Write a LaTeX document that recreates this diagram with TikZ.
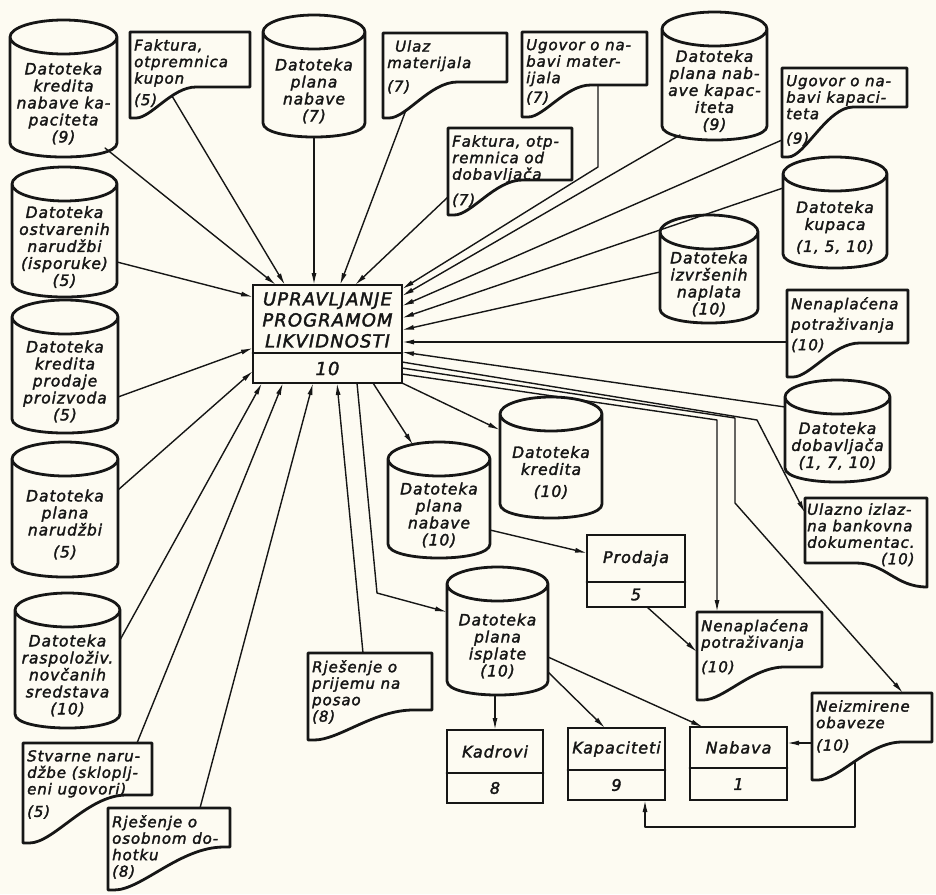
\documentclass[tikz,border=0pt]{standalone}
\usepackage{fontspec}
\setmainfont[LetterSpace=6,FakeBold=2,ItalicFeatures={FakeBold=2}]{DejaVu Sans}
\usetikzlibrary{calc,arrows.meta}
\definecolor{paper}{RGB}{253,251,242}
\definecolor{ink}{RGB}{22,22,22}
\newcommand\cylfont{\itshape\fontsize{15.5}{17}\selectfont}
\newcommand\docfont{\itshape\fontsize{15}{16.5}\selectfont}
\newcommand\procfont{\itshape\fontsize{16}{18}\selectfont}
\newcommand\ctrfont{\itshape\fontsize{18}{21}\selectfont}

\newcommand\CylNode[6]{%
  \node[shapebox, minimum width={(#4)-(#2)}, minimum height={(#5)-(#3)}] (#1) at ({((#2)+(#4))/2},{((#3)+(#5))/2}) {};
  \draw[shp] let \p1=(#1.north west), \p2=(#1.south east) in
    ({(\x1+\x2)/2},{\y1-17}) ellipse [x radius={(\x2-\x1)/2}, y radius=17pt]
    (\x1,{\y1-17}) -- (\x1,{\y2+14}) .. controls (\x1,{\y2-4.7}) and (\x2,{\y2-4.7}) .. (\x2,{\y2+14}) -- (\x2,{\y1-17});
  \node[cyltxt] (#1t) at ({((#2)+(#4))/2},{((#3)+(#5))/2+15}) {#6};
}
% name, x1, y1, x2, yL (left bottom), yR (right bottom), S-start fraction, text
\newcommand\DocNode[8]{%
  \node[shapebox, minimum width={(#4)-(#2)}, minimum height={(#5)-(#3)}] (#1) at ({((#2)+(#4))/2},{((#3)+(#5))/2}) {};
  \draw[shp] let \p1=(#1.north west), \p2=(#1.south east), \n1={\x2-\x1}, \n2={(#5)-(#6)}, \n3={#7} in
    (\x1,\y2) -- (\x1,\y1) -- (\x2,\y1) -- (\x2,{\y2+\n2}) -- ({\x1+\n3*\n1},{\y2+\n2})
    .. controls ({\x1+(\n3-0.4*(\n3-0.05))*\n1},{\y2+\n2}) and ({\x1+(0.05+0.25*(\n3-0.05))*\n1},\y2) .. ({\x1+0.05*\n1},\y2) -- (\x1,\y2) -- cycle;
  \node[doctxt] (#1t) at ({(#2)+4},{(#3)+7}) {#8};
}
\newcommand\ProcNode[8]{%
  \node[procbox, minimum width={(#4)-(#2)}, minimum height={(#5)-(#3)}] (#1) at ({((#2)+(#4))/2},{((#3)+(#5))/2}) {};
  \coordinate (#1d) at (#2,#6);
  \draw[shp] (#1d) -- (#1d -| #1.east);
  \node[proctxt] (#1l) at ({((#2)+(#4))/2},{((#3)+(#6))/2}) {#7};
  \node[proctxt] (#1n) at ({((#2)+(#4))/2},{((#6)+(#5))/2}) {#8};
}

\begin{document}
\begin{tikzpicture}[x=1pt,y=-1pt,line cap=round,
  shapebox/.style={draw=none,inner sep=0pt,outer sep=0pt,rectangle},
  procbox/.style={draw=ink,line width=2.8pt,inner sep=0pt,outer sep=0pt,rectangle},
  shp/.style={draw=ink,line width=2.8pt,line join=round},
  arr/.style={draw=ink,line width=1.4pt,line join=round,-{Latex[length=12pt,width=5pt]}},
  cyltxt/.style={font=\cylfont,text=ink,align=center,inner sep=0pt},
  doctxt/.style={font=\docfont,text=ink,align=left,inner sep=0pt,anchor=north west},
  proctxt/.style={font=\procfont,text=ink,align=center,inner sep=0pt},
  ctrtxt/.style={font=\ctrfont,text=ink,align=center,inner sep=0pt}]
\fill[paper] (0,0) rectangle (936,894);
\useasboundingbox (0,0) rectangle (936,894);

% top row
\CylNode{c1}{10}{20}{117}{157}{Datoteka\\kredita\\nabave ka-\\paciteta\\(9)}
\DocNode{fk}{130}{32}{250}{118}{87}{0.55}{Faktura,\\otpremnica\\kupon\\[5pt](5)}
\CylNode{c2}{263}{15}{365}{137}{Datoteka\\plana\\nabave\\(7)}
\DocNode{ul}{383}{33}{507}{118}{82}{0.6}{\hspace*{8pt}Ulaz\\materijala\\[7pt](7)}
\DocNode{um}{522}{32}{647}{117}{85}{0.55}{Ugovor o na-\\bavi mater-\\ijala\\[3pt](7)}
\DocNode{fd}{448}{128}{572}{215}{180}{0.6}{Faktura, otp-\\remnica od\\dobavljača\\[9pt](7)}
\CylNode{c3}{662}{12}{767}{140}{Datoteka\\plana nab-\\ave kapac-\\iteta\\(9)}
\DocNode{uk}{782}{68}{907}{157}{107}{0.57}{Ugovor o na-\\bavi kapaci-\\teta\\[8pt](9)}
% right column
\CylNode{c4}{783}{157}{887}{268}{Datoteka\\kupaca\\[5pt](1, 5, 10)}
\CylNode{c5}{660}{215}{758}{323}{Datoteka\\izvršenih\\naplata\\(10)}
\DocNode{nu}{787}{290}{908}{377}{343}{0.6}{Nenaplaćena\\[4pt]potraživanja\\[4pt](10)}
\CylNode{c6}{785}{380}{890}{482}{Datoteka\\dobavljača\\(1, 7, 10)}
% mirrored document
\node[shapebox, minimum width=122, minimum height=89] (ui) at (866,542.5) {};
\draw[shp] let \p1=(ui.north west), \p2=(ui.south east), \n1={\x2-\x1} in
  (\x2,\y2) -- (\x2,\y1) -- (\x1,\y1) -- (\x1,{\y2+24}) -- ({\x1+0.42*\n1},{\y2+24})
  .. controls ({\x1+0.66*\n1},{\y2+24}) and ({\x1+0.74*\n1},\y2) .. (\x2,\y2) -- cycle;
\node[font=\docfont,text=ink,inner sep=0pt,anchor=north west] (uit) at (807,503)
  {\begin{tabular}{@{}l@{}}Ulazno izlaz-\\na bankovna\\dokumentac.\\\multicolumn{1}{@{}r@{}}{(10)}\end{tabular}};
% left column
\CylNode{c7}{12}{167}{117}{297}{Datoteka\\ostvarenih\\narudžbi\\(isporuke)\\(5)}
\CylNode{c8}{12}{300}{118}{433}{Datoteka\\kredita\\prodaje\\proizvoda\\(5)}
\CylNode{c9}{12}{442}{118}{577}{Datoteka\\plana\\narudžbi\\[5pt](5)}
\CylNode{c10}{15}{593}{120}{728}{Datoteka\\raspoloživ.\\novčanih\\sredstava\\(10)}
\DocNode{st}{23}{743}{152}{843}{795}{0.8}{Stvarne naru-\\džbe (skloplj-\\eni ugovori)\\[6pt](5)}
\DocNode{ro}{108}{808}{230}{890}{847}{0.95}{Rješenje o\\osobnom do-\\hotku\\(8)}
\DocNode{rp}{308}{653}{432}{740}{710}{0.85}{Rješenje o\\prijemu na\\posao\\(8)}
% middle / lower
\CylNode{c11}{388}{442}{490}{558}{Datoteka\\plana\\nabave\\(10)}
\CylNode{c12}{500}{397}{602}{518}{Datoteka\\kredita\\[5pt](10)}
\CylNode{c13}{447}{567}{548}{695}{Datoteka\\plana\\isplate\\(10)}
\ProcNode{pr}{587}{535}{685}{607}{582}{Prodaja}{5}
\DocNode{np}{697}{612}{822}{700}{667}{0.7}{Nenaplaćena\\potraživanja\\[8pt](10)}
\ProcNode{kd}{447}{730}{543}{803}{773}{Kadrovi}{8}
\ProcNode{kp}{568}{728}{665}{800}{770}{Kapaciteti}{9}
\ProcNode{nb}{690}{727}{787}{800}{768}{Nabava}{1}
\DocNode{ne}{812}{693}{932}{780}{742}{0.75}{Neizmirene\\obaveze\\[6pt](10)}
% central process
\node[procbox, minimum width=149, minimum height=98] (ctr) at (327.5,334) {};
\coordinate (ctrd) at (253,353);
\draw[shp] (ctrd) -- (ctrd -| ctr.east);
\node[ctrtxt] (ctrl) at (327.5,320) {UPRAVLJANJE\\PROGRAMOM\\LIKVIDNOSTI};
\node[ctrtxt] (ctrn) at (327.5,368.5) {10};

% inputs into the central process
\draw[arr] ($(c1.south east)+(-12,-9)$) -- ($(ctr.north west)+(23,0)$);
\draw[arr] ($(fk.south west)+(42,-22)$) -- ($(ctr.north west)+(32,0)$);
\draw[arr] (c2.south) -- (c2.south |- ctr.north);
\draw[arr] ($(ul.south west)+(23,-8)$) -- ($(ctr.north west)+(87,0)$);
\draw[arr] ($(fd.north west)+(0,69)$) -- ($(ctr.north west)+(102,0)$);
\draw[arr] ($(um.north west)+(76,53)$) -- ($(um.north west)+(76,135)$) -- ($(ctr.north east)+(0,4)$);
\draw[arr] ($(c3.south west)+(18,-5)$) -- ($(ctr.north east)+(0,11)$);
\draw[arr] ($(uk.north west)+(0,72)$) -- ($(ctr.north east)+(0,21)$);
\draw[arr] ($(c4.north west)+(0,31)$) -- ($(ctr.north east)+(0,33)$);
\draw[arr] ($(c5.north west)+(0,57)$) -- ($(ctr.north east)+(0,45)$);
\draw[arr] ($(nu.north west)+(0,52)$) -- ($(ctr.north east)+(0,57)$);
\draw[arr] ($(c6.north west)+(0,27)$) -- ($(ctr.north east)+(0,67)$);
\draw[arr] ($(c7.south east)+(0,-35)$) -- ($(ctr.north west)+(0,12)$);
\draw[arr] ($(c8.south east)+(0,-36)$) -- ($(ctr.north west)+(0,63)$);
\draw[arr] ($(c9.south east)+(0,-87)$) -- ($(ctr.south west)+(0,-12)$);
\draw[arr] ($(c10.south east)+(0,-88)$) -- ($(ctr.south west)+(9,0)$);
\draw[arr] ($(st.north west)+(114,0)$) -- ($(ctr.south west)+(30,0)$);
\draw[arr] ($(ro.north west)+(92,0)$) -- ($(ctr.south west)+(60,0)$);
\draw[arr] ($(rp.north west)+(55,0)$) -- ($(ctr.south west)+(84,0)$);
% outputs of the central process
\draw[arr] ($(ctr.south west)+(104,0)$) -- ($(c13.north west)+(-70,26)$) -- ($(c13.north west)+(0,45)$);
\draw[arr] ($(ctr.south west)+(120,0)$) -- ($(c11.north west)+(25,3)$);
\draw[arr] (ctr.south east) -- ($(c12.north west)+(0,33)$);
\draw[arr] ($(ctr.south east)+(0,-9)$) -- ($(np.north west)+(20,-192)$) -- ($(np.north west)+(20,0)$);
\draw[arr] ($(ctr.south east)+(0,-15)$) -- ($(ne.north west)+(-77,-275)$) -- ($(ne.north west)+(-77,-190)$) -- ($(ne.north west)+(91,0)$);
\draw[arr] ($(ctr.south east)+(0,-21)$) -- ($(ui.north west)+(-48,-78)$) -- ($(ui.north west)+(0,15)$);
% lower flows
\draw[arr] ($(c11.south east)+(0,-28)$) -- ($(pr.north west)+(0,18)$);
\draw[arr] ($(pr.south west)+(60,0)$) -- ($(np.north west)+(0,40)$);
\draw[arr] (kd.north |- c13.south) -- (kd.north);
\draw[arr] ($(c13.south east)+(0,-23)$) -- ($(kp.north west)+(37,0)$);
\draw[arr] ($(c13.south east)+(0,-38)$) -- ($(nb.north west)+(13,0)$);
\draw[arr] ($(ne.north west)+(0,50)$) -- ($(nb.north east)+(0,16)$);
\draw[arr] ($(ne.south west)+(43,-19)$) -- ($(ne.south west)+(43,47)$) -- ($(kp.south west)+(77,27)$) -- ($(kp.south west)+(77,0)$);
\end{tikzpicture}
\end{document}
